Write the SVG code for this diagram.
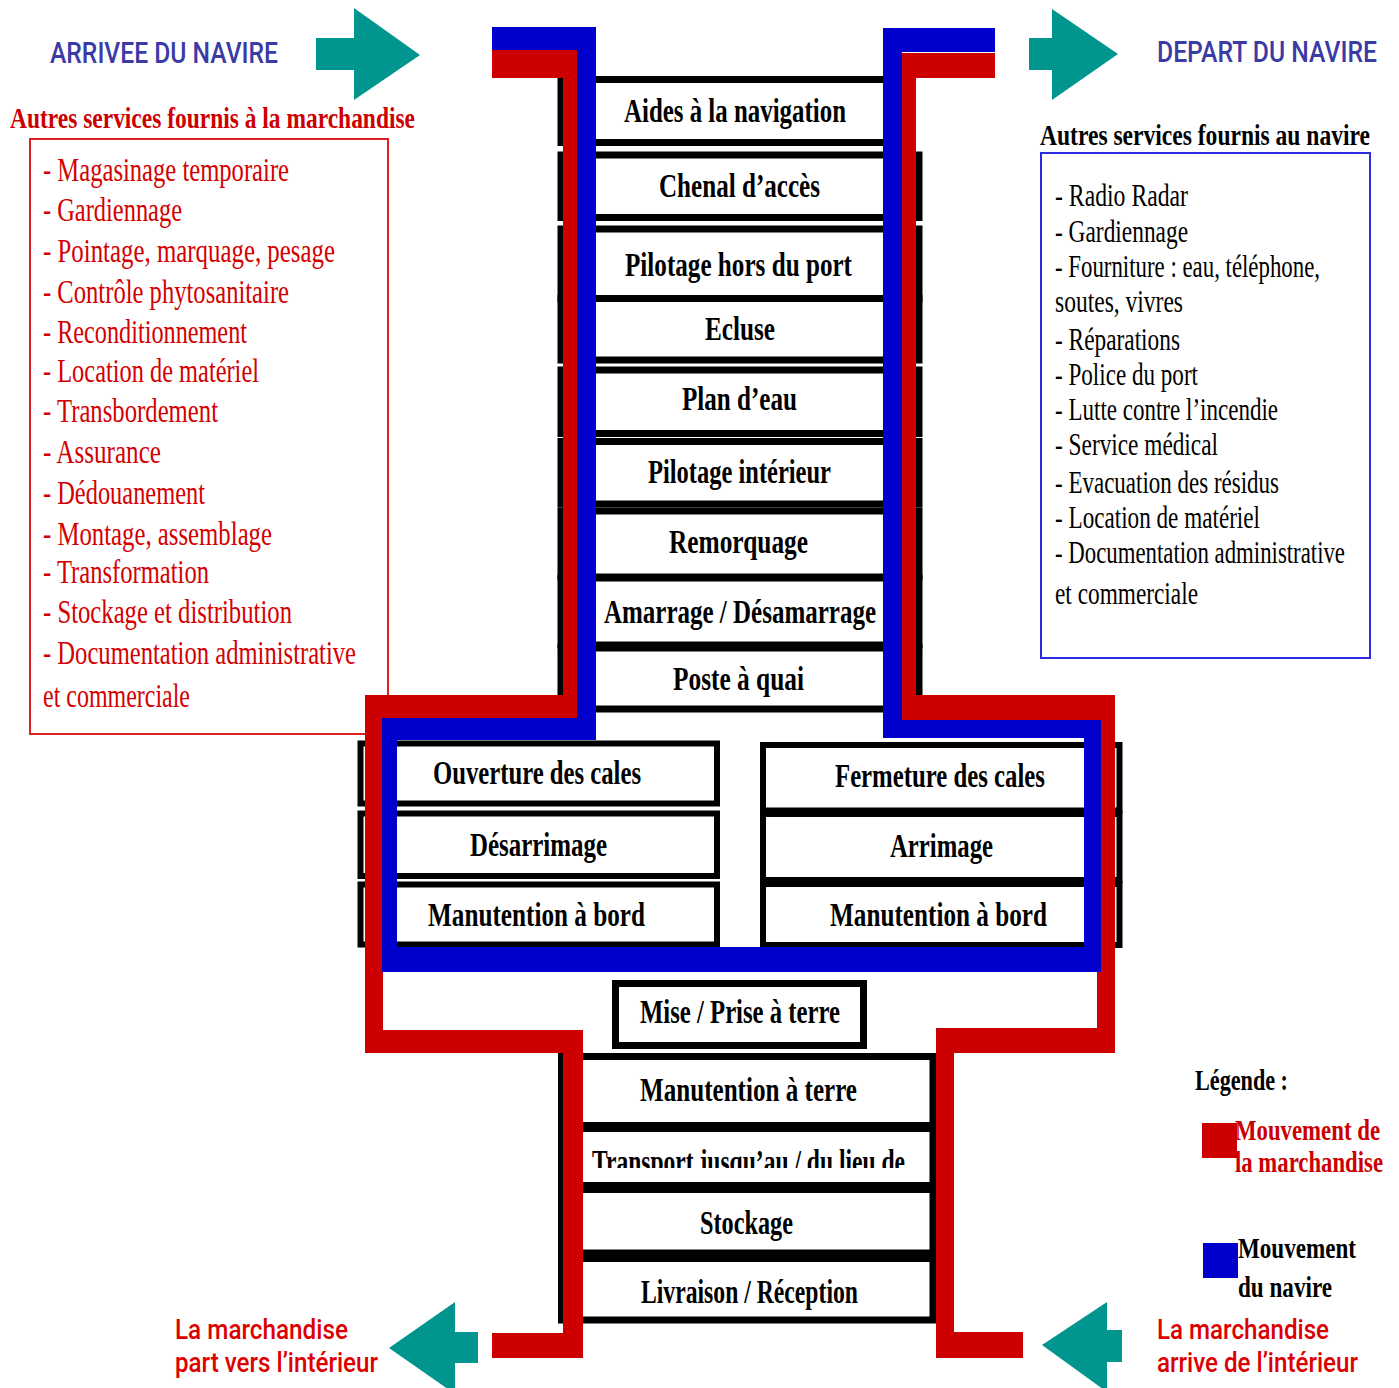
<svg xmlns="http://www.w3.org/2000/svg" width="1399" height="1388" viewBox="0 0 1399 1388">
<defs>
<style>
.box{fill:#fff;stroke:#000;stroke-width:7}
.box2{fill:#fff;stroke:#000;stroke-width:6}
.lbl{font-family:"Liberation Serif","Times New Roman",serif;font-weight:bold;font-size:34px;fill:#000}
.lst{font-family:"Liberation Serif","Times New Roman",serif;font-size:34px;fill:#d40000}
.lstk{font-family:"Liberation Serif","Times New Roman",serif;font-size:32px;fill:#000}
.ttl{font-family:"Liberation Serif","Times New Roman",serif;font-weight:bold;font-size:30px}
.hdr{font-family:Roboto,"Liberation Sans",sans-serif;font-weight:500;font-size:29px;fill:#3b3ba6}
.rs{font-family:Roboto,"Liberation Sans",sans-serif;font-weight:500;font-size:28px;fill:#dd0000}
.teal{fill:#00968f}
.red{fill:#cc0000}
.blue{fill:#0000cc}
</style>
<clipPath id="clipT"><rect x="580" y="1130" width="352" height="38"/></clipPath>
</defs>
<rect x="0" y="0" width="1399" height="1388" fill="#fff"/>

<!-- headers and arrows -->
<g id="arrivee">
<text class="hdr" x="50" y="63" textLength="228" lengthAdjust="spacingAndGlyphs">ARRIVEE DU NAVIRE</text>
<polygon class="teal" points="316,38 354,38 354,8 420,55 354,100 354,70 316,70"/>
</g>
<g id="depart">
<polygon class="teal" points="1029,38 1052,38 1052,9 1118,54 1052,100 1052,70 1029,70"/>
<text class="hdr" x="0" y="0" transform="translate(1157 62) scale(1 1.16)" style="font-size:25px" textLength="220" lengthAdjust="spacingAndGlyphs">DEPART DU NAVIRE</text>
</g>

<!-- left panel -->
<g id="services-marchandise">
<text class="ttl" x="10" y="128" fill="#cc0000" textLength="405" lengthAdjust="spacingAndGlyphs">Autres services fournis à la marchandise</text>
<rect x="30" y="139" width="358" height="595" fill="none" stroke="#e02020" stroke-width="2"/>
<text class="lst" x="43" y="181" textLength="246" lengthAdjust="spacingAndGlyphs">- Magasinage temporaire</text>
<text class="lst" x="43" y="221" textLength="139" lengthAdjust="spacingAndGlyphs">- Gardiennage</text>
<text class="lst" x="43" y="262" textLength="292" lengthAdjust="spacingAndGlyphs">- Pointage, marquage, pesage</text>
<text class="lst" x="43" y="303" textLength="246" lengthAdjust="spacingAndGlyphs">- Contrôle phytosanitaire</text>
<text class="lst" x="43" y="343" textLength="204" lengthAdjust="spacingAndGlyphs">- Reconditionnement</text>
<text class="lst" x="43" y="382" textLength="216" lengthAdjust="spacingAndGlyphs">- Location de matériel</text>
<text class="lst" x="43" y="422" textLength="175" lengthAdjust="spacingAndGlyphs">- Transbordement</text>
<text class="lst" x="43" y="463" textLength="118" lengthAdjust="spacingAndGlyphs">- Assurance</text>
<text class="lst" x="43" y="504" textLength="162" lengthAdjust="spacingAndGlyphs">- Dédouanement</text>
<text class="lst" x="43" y="545" textLength="229" lengthAdjust="spacingAndGlyphs">- Montage, assemblage</text>
<text class="lst" x="43" y="583" textLength="166" lengthAdjust="spacingAndGlyphs">- Transformation</text>
<text class="lst" x="43" y="623" textLength="249" lengthAdjust="spacingAndGlyphs">- Stockage et distribution</text>
<text class="lst" x="43" y="664" textLength="313" lengthAdjust="spacingAndGlyphs">- Documentation administrative</text>
<text class="lst" x="43" y="707" textLength="147" lengthAdjust="spacingAndGlyphs">et commerciale</text>
</g>

<!-- right panel -->
<g id="services-navire">
<text class="ttl" x="0" y="0" transform="translate(1040 145) scale(1 1.25)" style="font-size:24px" fill="#000" textLength="330" lengthAdjust="spacingAndGlyphs">Autres services fournis au navire</text>
<rect x="1041" y="153" width="329" height="505" fill="none" stroke="#2a2ae0" stroke-width="2"/>
<text class="lstk" x="1055" y="206" textLength="133" lengthAdjust="spacingAndGlyphs">- Radio Radar</text>
<text class="lstk" x="1055" y="242" textLength="133" lengthAdjust="spacingAndGlyphs">- Gardiennage</text>
<text class="lstk" x="0" y="0" transform="translate(1055 277) scale(1 1.333)" style="font-size:24px" textLength="265" lengthAdjust="spacingAndGlyphs">- Fourniture : eau, téléphone,</text>
<text class="lstk" x="1055" y="312" textLength="128" lengthAdjust="spacingAndGlyphs">soutes, vivres</text>
<text class="lstk" x="1055" y="350" textLength="125" lengthAdjust="spacingAndGlyphs">- Réparations</text>
<text class="lstk" x="1055" y="385" textLength="143" lengthAdjust="spacingAndGlyphs">- Police du port</text>
<text class="lstk" x="1055" y="420" textLength="223" lengthAdjust="spacingAndGlyphs">- Lutte contre l’incendie</text>
<text class="lstk" x="1055" y="455" textLength="163" lengthAdjust="spacingAndGlyphs">- Service médical</text>
<text class="lstk" x="1055" y="493" textLength="224" lengthAdjust="spacingAndGlyphs">- Evacuation des résidus</text>
<text class="lstk" x="1055" y="528" textLength="205" lengthAdjust="spacingAndGlyphs">- Location de matériel</text>
<text class="lstk" x="0" y="0" transform="translate(1055 563) scale(1 1.333)" style="font-size:24px" textLength="290" lengthAdjust="spacingAndGlyphs">- Documentation administrative</text>
<text class="lstk" x="1055" y="604" textLength="143" lengthAdjust="spacingAndGlyphs">et commerciale</text>
</g>

<!-- top stack -->
<g id="aides"><rect class="box" x="561" y="79.5" width="346" height="63"/><text class="lbl" x="624" y="122" textLength="222" lengthAdjust="spacingAndGlyphs">Aides à la navigation</text></g>
<g id="chenal"><rect class="box" x="561" y="155" width="358" height="62.5"/><text class="lbl" x="659" y="197" textLength="161" lengthAdjust="spacingAndGlyphs">Chenal d’accès</text></g>
<g id="pilotage-hors"><rect class="box" x="561" y="229" width="358" height="69.5"/><text class="lbl" x="625" y="276" textLength="227" lengthAdjust="spacingAndGlyphs">Pilotage hors du port</text></g>
<g id="ecluse"><rect class="box" x="561" y="298.5" width="358" height="61.5"/><text class="lbl" x="705" y="340" textLength="70" lengthAdjust="spacingAndGlyphs">Ecluse</text></g>
<g id="plan-eau"><rect class="box" x="561" y="370" width="358" height="63.5"/><text class="lbl" x="682" y="410" textLength="115" lengthAdjust="spacingAndGlyphs">Plan d’eau</text></g>
<g id="pilotage-int"><rect class="box" x="561" y="441.5" width="358" height="62.5"/><text class="lbl" x="648" y="483" textLength="183" lengthAdjust="spacingAndGlyphs">Pilotage intérieur</text></g>
<g id="remorquage"><rect class="box" x="561" y="511" width="358" height="66"/><text class="lbl" x="669" y="553" textLength="139" lengthAdjust="spacingAndGlyphs">Remorquage</text></g>
<g id="amarrage"><rect class="box" x="561" y="578" width="358" height="67"/><text class="lbl" x="604" y="623" textLength="272" lengthAdjust="spacingAndGlyphs">Amarrage / Désamarrage</text></g>
<g id="poste-quai"><rect class="box" x="561" y="648" width="358" height="61"/><text class="lbl" x="673" y="690" textLength="131" lengthAdjust="spacingAndGlyphs">Poste à quai</text></g>

<!-- ship operations, left column -->
<g id="ouverture"><rect class="box2" x="360.5" y="743.5" width="356.5" height="60"/><text class="lbl" x="433" y="784" textLength="208" lengthAdjust="spacingAndGlyphs">Ouverture des cales</text></g>
<g id="desarrimage"><rect class="box2" x="360.5" y="813.5" width="356.5" height="62.5"/><text class="lbl" x="470" y="856" textLength="137" lengthAdjust="spacingAndGlyphs">Désarrimage</text></g>
<g id="manut-bord-1"><rect class="box2" x="360.5" y="884.5" width="356.5" height="60"/><text class="lbl" x="428" y="926" textLength="217" lengthAdjust="spacingAndGlyphs">Manutention à bord</text></g>

<!-- ship operations, right column -->
<g id="fermeture"><rect class="box2" x="763" y="745" width="356.5" height="65.5"/><text class="lbl" x="835" y="787" textLength="210" lengthAdjust="spacingAndGlyphs">Fermeture des cales</text></g>
<g id="arrimage"><rect class="box2" x="763" y="814" width="356.5" height="66"/><text class="lbl" x="890" y="857" textLength="103" lengthAdjust="spacingAndGlyphs">Arrimage</text></g>
<g id="manut-bord-2"><rect class="box2" x="763" y="884" width="356.5" height="61"/><text class="lbl" x="830" y="926" textLength="217" lengthAdjust="spacingAndGlyphs">Manutention à bord</text></g>

<!-- land side -->
<g id="mise-prise"><rect class="box" x="615.5" y="983.5" width="248" height="62"/><text class="lbl" x="640" y="1023" textLength="200" lengthAdjust="spacingAndGlyphs">Mise / Prise à terre</text></g>
<g id="manut-terre"><rect class="box" x="561.5" y="1056.5" width="371.5" height="69"/><text class="lbl" x="640" y="1101" textLength="217" lengthAdjust="spacingAndGlyphs">Manutention à terre</text></g>
<g id="transport"><rect class="box" x="561.5" y="1128.5" width="371.5" height="57"/><text class="lbl" x="592" y="1173" textLength="313" lengthAdjust="spacingAndGlyphs" clip-path="url(#clipT)">Transport jusqu’au / du lieu de</text></g>
<g id="stockage"><rect class="box" x="561.5" y="1189.5" width="371.5" height="63.5"/><text class="lbl" x="700" y="1234" textLength="93" lengthAdjust="spacingAndGlyphs">Stockage</text></g>
<g id="livraison"><rect class="box" x="561.5" y="1258.5" width="371.5" height="61.5"/><text class="lbl" x="641" y="1303" textLength="217" lengthAdjust="spacingAndGlyphs">Livraison / Réception</text></g>

<!-- connectors: flows -->
<g id="connectors">
<path class="red" d="M492,50 H580 V720 H383 V1030 H583 V1358 H492 V1333 H563 V1053 H365 V695 H563 V78 H492 Z"/>
<path class="red" d="M995,53 H900 V720 H1097 V1028 H936 V1358 H1023 V1332 H954 V1053 H1115 V695 H916 V78 H995 Z"/>
<path class="blue" d="M492,27 H596 V740 H397 V947 H1084 V738 H883 V28 H995 V52 H902 V720 H1101 V972 H382 V718 H577 V50 H492 Z"/>
</g>

<!-- bottom arrows -->
<g id="vers-interieur">
<polygon class="teal" points="478,1332 455,1332 455,1302 389,1348 455,1394 455,1363 478,1363"/>
<text class="rs" x="175" y="1339" textLength="173" lengthAdjust="spacingAndGlyphs">La marchandise</text>
<text class="rs" x="175" y="1372" textLength="203" lengthAdjust="spacingAndGlyphs">part vers l’intérieur</text>
</g>
<g id="de-interieur">
<polygon class="teal" points="1122,1330 1107,1330 1107,1302 1042,1345 1107,1392 1107,1362 1122,1362"/>
<text class="rs" x="1157" y="1339" textLength="172" lengthAdjust="spacingAndGlyphs">La marchandise</text>
<text class="rs" x="0" y="0" transform="translate(1157 1372) scale(1 1.27)" style="font-size:22px" textLength="201" lengthAdjust="spacingAndGlyphs">arrive de l’intérieur</text>
</g>

<!-- legend -->
<g id="legende">
<text class="ttl" x="1195" y="1090" fill="#000" textLength="93" lengthAdjust="spacingAndGlyphs">Légende :</text>
<rect class="red" x="1202" y="1123" width="35" height="35"/>
<text class="ttl" x="0" y="0" transform="translate(1235 1140) scale(1 1.2)" style="font-size:25px" fill="#cc0000" textLength="145" lengthAdjust="spacingAndGlyphs">Mouvement de</text>
<text class="ttl" x="0" y="0" transform="translate(1235 1172) scale(1 1.25)" style="font-size:24px" fill="#cc0000" textLength="148" lengthAdjust="spacingAndGlyphs">la marchandise</text>
<rect class="blue" x="1203" y="1243" width="35" height="35"/>
<text class="ttl" x="0" y="0" transform="translate(1238 1258) scale(1 1.15)" style="font-size:26px" fill="#000" textLength="118" lengthAdjust="spacingAndGlyphs">Mouvement</text>
<text class="ttl" x="1238" y="1297" fill="#000" textLength="94" lengthAdjust="spacingAndGlyphs">du navire</text>
</g>
</svg>
